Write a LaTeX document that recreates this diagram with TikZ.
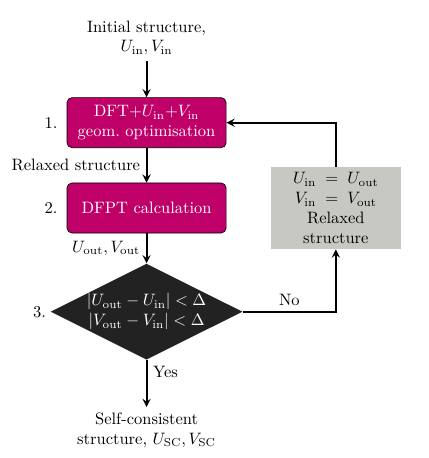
\documentclass[tikz,border=0pt]{standalone}
\usepackage{amsmath}
\usetikzlibrary{arrows,shapes,shapes.geometric,positioning}
\definecolor{dftmagenta}{RGB}{191,0,104}
\definecolor{checkdark}{RGB}{34,34,34}
\definecolor{updategray}{RGB}{200,200,194}
\tikzset{
  process/.style={draw=black, fill=dftmagenta, text=white, rounded corners=3pt, align=center, minimum width=96.4pt, minimum height=30.3pt},
  decision/.style={diamond, fill=checkdark, text=white, align=center, aspect=2, inner sep=0pt, minimum width=113pt, minimum height=57pt},
  update/.style={fill=updategray, align=center, inner sep=2pt, minimum width=78.8pt, minimum height=49.7pt},
  inout/.style={align=center},
  flow/.style={-stealth, line width=1.2pt},
}

\begin{document}
\begin{tikzpicture}
    \useasboundingbox (-88.8pt,23pt) rectangle (170.6pt,-254.5pt);
    \node[inout] (init) at (0,0) {Initial structure,\\ $U_\mathrm{in},V_\mathrm{in}$};
    \node[process, below=22pt of init] (relax) {DFT+$U_\mathrm{in}$+$V_\mathrm{in}$\\ geom.\ optimisation};
    \node[process, below=21pt of relax] (dfpt) {DFPT calculation};
    \node[decision, below=18.2pt of dfpt] (check) {$|U_\mathrm{out}-U_\mathrm{in}|<\Delta$\\ $|V_\mathrm{out}-V_\mathrm{in}|<\Delta$};
    \node[inout, below=28.5pt of check] (final) {Self-consistent\\ structure, $U_\mathrm{SC},V_\mathrm{SC}$};
    \node[update, right=26.7pt of dfpt] (newuv) {$U_\mathrm{in}\;=\;U_\mathrm{out}$\\ $V_\mathrm{in}\;=\;V_\mathrm{out}$\\ Relaxed\\ structure};
    % step numbers
    \node[left=2pt of relax.west] (n1) {1.};
    \node[left=2pt of dfpt.west] (n2) {2.};
    \node[left=-1pt of check.west] (n3) {3.};
    % connectors
    \draw[flow] (init) -- (relax);
    \draw[flow] (relax) -- node[left]{Relaxed structure} (dfpt);
    \draw[flow] (dfpt) -- node[left]{$U_\mathrm{out},V_\mathrm{out}$} (check);
    \draw[flow] (check) -- node[right, pos=0.25]{Yes} (final);
    \draw[flow] (check.east) -| node[above, pos=0.25]{No} (newuv.south);
    \draw[flow] (newuv.north) |- (relax.east);
  \end{tikzpicture}
\end{document}
